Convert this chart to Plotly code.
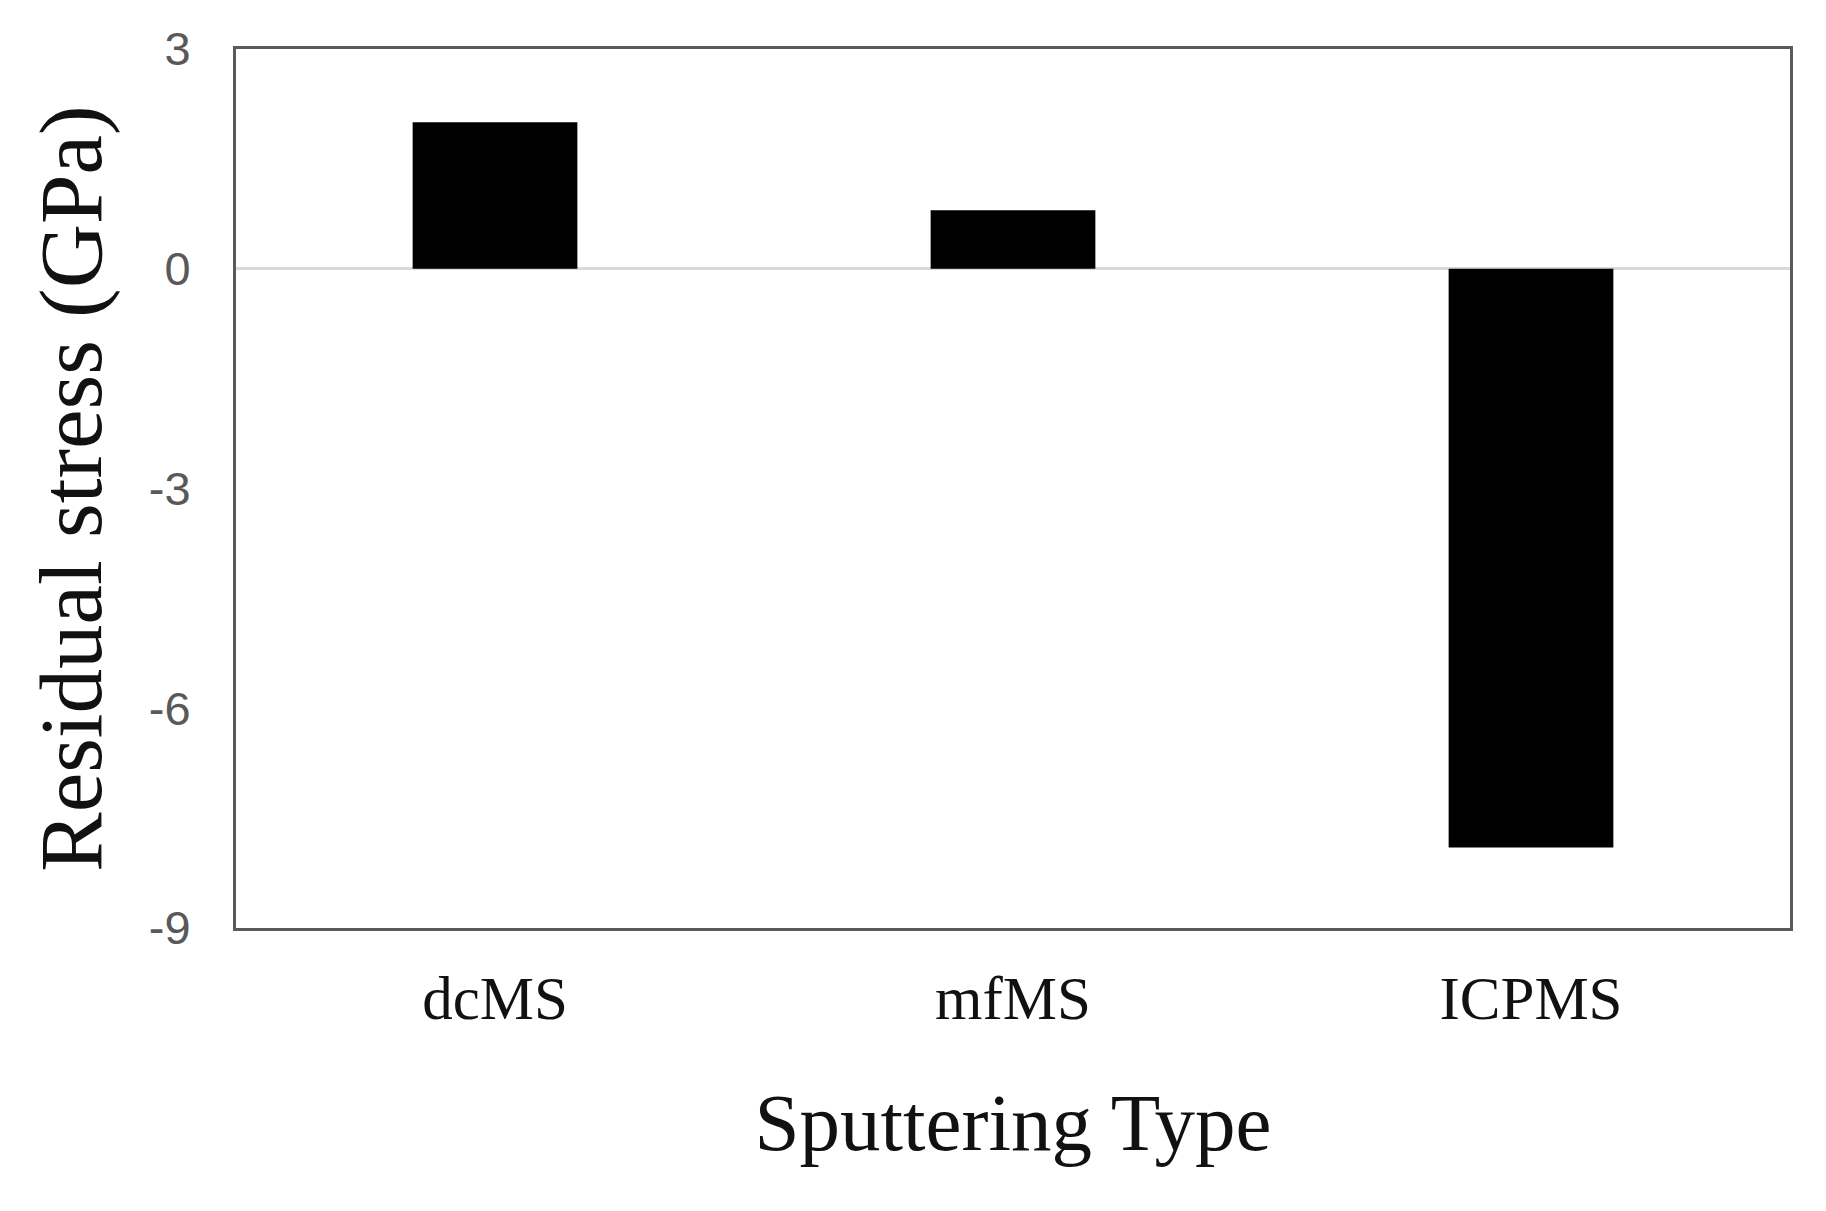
import plotly.graph_objects as go

categories = ["dcMS", "mfMS", "ICPMS"]
residual_stress = [2.0, 0.8, -7.9]
y_ticks = [3, 0, -3, -6, -9]
y_ticklabels = ["3", "0", "-3", "-6", "-9"]

fig = go.Figure()
fig.add_trace(go.Bar(
    x=categories,
    y=residual_stress,
    marker=dict(color="black", line=dict(width=0)),
    width=0.318,
))

fig.update_layout(
    width=1826,
    height=1211,
    margin=dict(l=228, r=44, t=41, b=291),
    plot_bgcolor="white",
    paper_bgcolor="white",
    showlegend=False,
)

fig.update_xaxes(
    showline=True, linecolor="#5a5a5a", linewidth=3, mirror=True,
    showgrid=False, ticks="", zeroline=False,
    tickfont=dict(family="Liberation Serif", size=61, color="#111111"),
    ticklabelstandoff=15,
    title=dict(text="Sputtering Type",
               font=dict(family="Liberation Serif", size=81, color="#111111"),
               standoff=63),
)

fig.update_yaxes(
    range=[-9, 3],
    tickvals=y_ticks, ticktext=y_ticklabels,
    showline=True, linecolor="#5a5a5a", linewidth=3, mirror=True,
    showgrid=False, ticks="",
    zeroline=True, zerolinecolor="#d9d9d9", zerolinewidth=3,
    tickfont=dict(family="Liberation Sans", size=47, color="#595959"),
    ticklabelstandoff=33,
    title=dict(text="Residual stress (GPa)",
               font=dict(family="Liberation Serif", size=89, color="#111111"),
               standoff=18),
)

fig.write_html("out.html")
